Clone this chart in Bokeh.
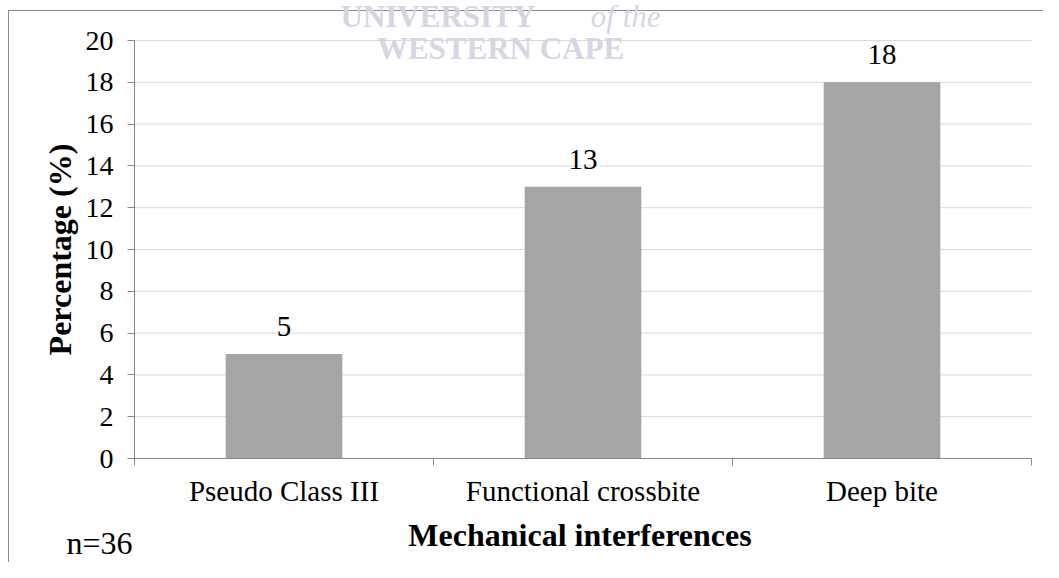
import math
from bokeh.plotting import figure
from bokeh.models import (ColumnDataSource, FixedTicker, LabelSet, Label, Range1d,
                          InlineStyleSheet)
from bokeh.core.properties import value
from bokeh.embed import file_html
from bokeh.resources import INLINE

# ---- data ----
categories = ["Pseudo Class III", "Functional crossbite", "Deep bite"]
percentages = [5, 13, 18]
y_ticks = [0, 2, 4, 6, 8, 10, 12, 14, 16, 18, 20]
x_title = "Mechanical interferences"
y_title = "Percentage (%)"
sample_note = "n=36"
watermark_top = "UNIVERSITY"
watermark_top_italic = "of the"
watermark_bottom = "WESTERN CAPE"

# ---- layout (pixels) ----
W, H = 1043, 562
PLOT_LEFT, PLOT_RIGHT, PLOT_TOP, PLOT_BOTTOM = 134, 1031, 40, 458
Y_MAX = y_ticks[-1]
N = len(categories)

FONT = "Liberation Serif"
AXIS_COLOR = "#898989"
BAR_COLOR = "#a5a5a5"
GRID_COLOR = "#d9d9d9"
WM_COLOR_A = "#d6d6e4"   # WESTERN CAPE
WM_COLOR_B = "#d6d6e3"   # UNIVERSITY
WM_COLOR_C = "#d6d6e5"   # of the

x_per = (PLOT_RIGHT - PLOT_LEFT) / N
y_per = (PLOT_BOTTOM - PLOT_TOP) / Y_MAX


def px_x(px):
    return (px - PLOT_LEFT) / x_per


def px_y(py):
    return (PLOT_BOTTOM - py) / y_per


positions = [i + 0.5 for i in range(N)]
boundaries = list(range(N + 1))
src = ColumnDataSource(dict(x=positions, top=percentages,
                            label=[str(v) for v in percentages]))
grid_src = ColumnDataSource(dict(y=y_ticks[1:], x0=[0] * (len(y_ticks) - 1),
                                 x1=[N] * (len(y_ticks) - 1)))

p = figure(width=W, height=H,
           x_range=Range1d(px_x(0), px_x(W)), y_range=Range1d(px_y(H), px_y(0)),
           output_backend="svg", toolbar_location=None,
           min_border_left=0, min_border_right=0,
           min_border_top=0, min_border_bottom=0)
p.border_fill_color = None
p.background_fill_color = None
p.outline_line_color = None
p.styles = {
    "background-color": "white",
    "background-image": f"linear-gradient({AXIS_COLOR}, {AXIS_COLOR}), linear-gradient({AXIS_COLOR}, {AXIS_COLOR})",
    "background-size": "100% 1px, 1px 100%",
    "background-position": "8px 10px, 8px 10px",
    "background-repeat": "no-repeat",
}
css = (
    f'text[fill="{WM_COLOR_A}"], text[fill="rgb(214,214,228)"], text[fill="rgb(214, 214, 228)"] {{ letter-spacing: 6px; }}\n'
    f'text[fill="{WM_COLOR_B}"], text[fill="rgb(214,214,227)"], text[fill="rgb(214, 214, 227)"] {{ letter-spacing: 4.8px; }}\n'
)
p.stylesheets = [InlineStyleSheet(css=css)]
p.xgrid.visible = False
p.ygrid.visible = False

# horizontal gridlines across the plot area
p.segment(x0="x0", x1="x1", y0="y", y1="y", source=grid_src,
          line_color=GRID_COLOR, line_width=1)

p.vbar(x="x", top="top", width=0.39, source=src,
       fill_color=BAR_COLOR, line_color=None)

# x axis: ticks at category boundaries, labels at centres
xa = p.xaxis[0]
xa.fixed_location = 0
xa.bounds = (0, N)
xa.ticker = FixedTicker(ticks=positions, minor_ticks=boundaries)
xa.major_label_overrides = {pos: cat for pos, cat in zip(positions, categories)}
xa.major_tick_in = 0
xa.major_tick_out = 0
xa.minor_tick_in = 0
xa.minor_tick_out = 7
xa.minor_tick_line_color = AXIS_COLOR
xa.axis_line_color = AXIS_COLOR
xa.major_label_standoff = 9
xa.major_label_text_font = FONT
xa.major_label_text_font_size = "29px"
xa.major_label_text_color = "black"

ya = p.yaxis[0]
ya.fixed_location = 0
ya.bounds = (0, Y_MAX)
ya.ticker = FixedTicker(ticks=y_ticks)
ya.major_tick_in = 0
ya.major_tick_out = 7
ya.minor_tick_in = 0
ya.minor_tick_out = 0
ya.major_tick_line_color = AXIS_COLOR
ya.axis_line_color = AXIS_COLOR
ya.major_label_standoff = 14
ya.major_label_text_font = FONT
ya.major_label_text_font_size = "28px"
ya.major_label_text_color = "black"

labels = LabelSet(x="x", y="top", text="label", source=src,
                  y_offset=18, text_align="center", text_baseline="alphabetic",
                  text_font=value(FONT), text_font_size=value("29px"),
                  text_color="black")
p.add_layout(labels)

# axis titles (offsets compensate the label's baseline placement)
p.add_layout(Label(x=N / 2 - 0.01, y=px_y(547), y_offset=13, text=x_title,
                   text_align="center", text_baseline="alphabetic",
                   text_font=FONT, text_font_size="32px",
                   text_font_style="bold", text_color="black"))
p.add_layout(Label(x=px_x(72), y=Y_MAX / 2, x_offset=-13, text=y_title,
                   angle=math.pi / 2, text_align="center",
                   text_baseline="alphabetic", text_font=FONT,
                   text_font_size="32px", text_font_style="bold",
                   text_color="black"))
p.add_layout(Label(x=px_x(66), y=px_y(555), y_offset=13, text=sample_note,
                   text_align="left", text_baseline="alphabetic",
                   text_font=FONT, text_font_size="32px", text_color="black"))

# watermark
p.add_layout(Label(x=px_x(500), y=px_y(60), y_offset=12, text=watermark_bottom,
                   text_align="center", text_baseline="alphabetic",
                   text_font=FONT, text_font_size="31px",
                   text_font_style="bold", text_color=WM_COLOR_A))
p.add_layout(Label(x=px_x(340), y=px_y(28), y_offset=12, text=watermark_top,
                   text_align="left", text_baseline="alphabetic",
                   text_font=FONT, text_font_size="31px",
                   text_font_style="bold", text_color=WM_COLOR_B))
p.add_layout(Label(x=px_x(660), y=px_y(28), y_offset=12, text=watermark_top_italic,
                   text_align="right", text_baseline="alphabetic",
                   text_font=FONT, text_font_size="31px",
                   text_font_style="italic", text_color=WM_COLOR_C))

open("out.html", "w").write(file_html(p, INLINE))
